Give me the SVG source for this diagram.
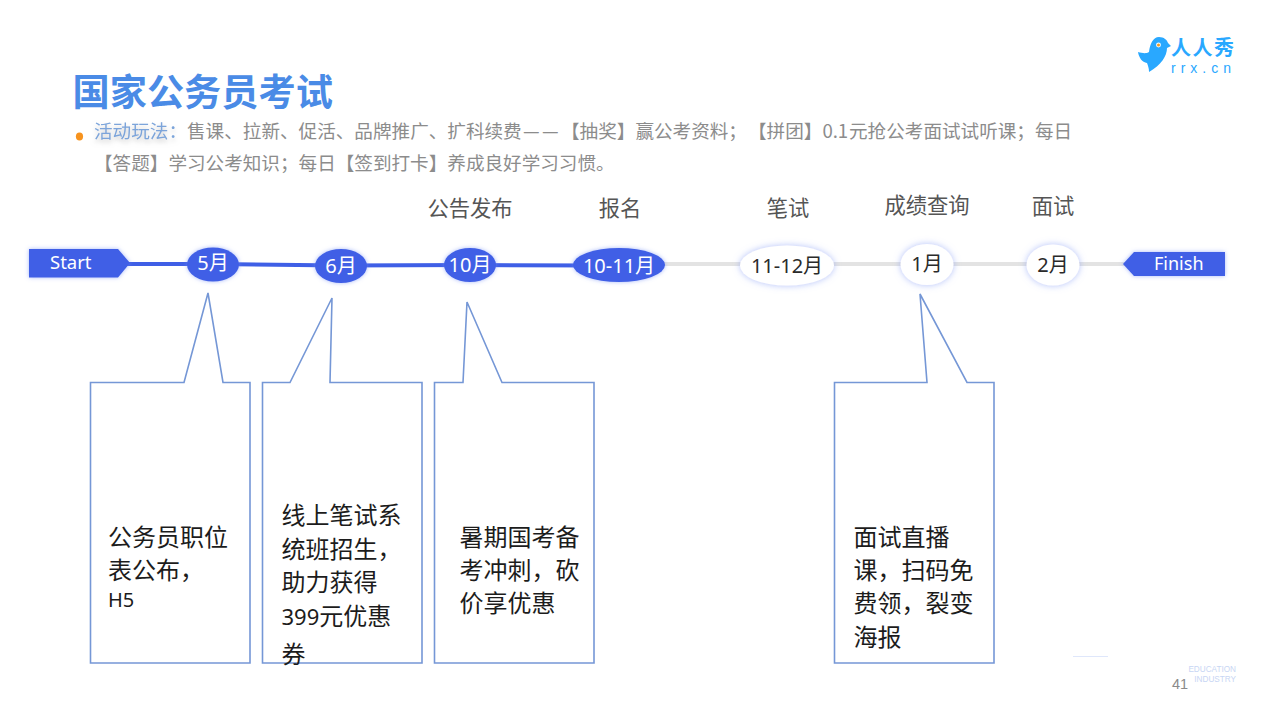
<svg xmlns="http://www.w3.org/2000/svg" width="1280" height="716" viewBox="0 0 1280 716">
<style>
text{font-family:"Noto Sans","Noto Sans CJK SC",sans-serif;text-spacing-trim:space-all}
.title{font-family:"Noto Sans CJK SC",sans-serif;font-size:37.200px;font-weight:700;fill:#4a8be6}
.sub{font-family:"Noto Sans CJK SC",sans-serif;font-size:18.6px;fill:#8c8c8c}
.lab{font-family:"Noto Sans CJK SC",sans-serif;font-size:21.3px;fill:#555;text-anchor:middle}
.mw{font-size:20px;fill:#fff;text-anchor:middle}
.md{font-size:20px;fill:#2a2a2a;text-anchor:middle}
.body{font-family:"Noto Sans CJK SC",sans-serif;font-size:24px;fill:#1c1c1c}
.call{fill:#fff;stroke:#7597d6;stroke-width:1.6}
.blueglow{fill:#3f5fe6;filter:url(#g1)}
.white{fill:#fff;filter:url(#g2)}
.foot{font-family:"Liberation Sans",sans-serif;font-size:8.2px;fill:#c8d6f4;text-anchor:end}
</style>
<defs>
<filter id="g1" x="-30%" y="-40%" width="160%" height="180%"><feDropShadow dx="0" dy="0" stdDeviation="2" flood-color="#6f8cf5" flood-opacity=".6"/></filter>
<filter id="g2" x="-30%" y="-40%" width="160%" height="180%"><feDropShadow dx="0" dy="0" stdDeviation="3.5" flood-color="#7f97f5" flood-opacity=".6"/></filter>
<filter id="s1" x="-10%" y="-30%" width="120%" height="190%"><feDropShadow dx="0" dy="3" stdDeviation="2.5" flood-color="#9a9a9a" flood-opacity=".55"/></filter>
</defs>
<rect width="1280" height="716" fill="#fff"/>

<g id="logo">
<path d="M1138 52C1142 53 1146 54 1149 52C1150 44 1153 37 1159 37C1164 37 1167 40 1168 43L1171 46L1167 48C1167 56 1161 65 1149 72C1149 68 1148 66 1147 63C1142 62 1139 58 1138 52Z" fill="#29a8ff"/>
<circle cx="1158.500" cy="45" r="2.400" fill="#fff"/><circle cx="1158.500" cy="45" r="1.500" fill="#f39a1e"/>
<text x="1171" y="54.500" font-size="20" font-weight="700" letter-spacing="1.500" fill="#29a8ff" style="font-family:'Noto Sans CJK SC',sans-serif">人人秀</text>
<text x="1171" y="73" font-size="14" fill="#29a8ff" letter-spacing="5" style="font-family:'Liberation Sans',sans-serif">rrx.cn</text>
</g>

<g id="heading">
<text class="title" x="72.500" y="106">国家公务员考试</text>
<ellipse cx="79.5" cy="136.5" rx="3.6" ry="4" fill="#f7931e"/>
<text class="sub" x="94" y="138" style="fill:#7ba4da;filter:url(#s1)">活动玩法&#xFF1A;</text>
<text class="sub" x="187" y="138">售课、拉新、促活、品牌推广、扩科续费<tspan x="523">—</tspan><tspan x="542">—</tspan><tspan x="561">【抽奖】赢公考资料&#xFF1B;</tspan><tspan x="748">【拼团】0.1</tspan><tspan x="849">元抢公考面试试听课&#xFF1B;每日</tspan></text>
<text class="sub" x="94" y="170">【答题】学习公考知识&#xFF1B;每日【签到打卡】养成良好学习习惯。</text>
</g>

<g id="connectors">
<line x1="660" y1="264" x2="1128" y2="264" stroke="#e3e3e3" stroke-width="4"/>
<path d="M125 264H213L341 265.500L470 265L600 265.500" fill="none" stroke="#3f5fe6" stroke-width="4"/>
</g>

<g id="start"><polygon class="blueglow" points="29,249 118,249 130,263 118,277.500 29,277.500"/><text x="50" y="269" font-size="18.500" fill="#fff">Start</text></g>
<g id="finish"><polygon class="blueglow" points="1123,264 1134,252 1225,252 1225,276 1134,276"/><text x="1154" y="270" font-size="18" fill="#fff">Finish</text></g>

<g id="m5"><ellipse class="blueglow" cx="213" cy="264.500" rx="26" ry="17"/><text class="mw" x="213" y="270">5月</text></g>
<g id="m6"><ellipse class="blueglow" cx="341" cy="266" rx="26" ry="17"/><text class="mw" x="341" y="273">6月</text></g>
<g id="m10"><ellipse class="blueglow" cx="470" cy="265" rx="26" ry="17"/><text class="mw" x="470" y="272">10月</text></g>
<g id="m10-11"><ellipse class="blueglow" cx="619" cy="265" rx="46" ry="17"/><text class="mw" x="619" y="273">10-11月</text><text class="lab" x="620" y="216">报名</text></g>
<g id="m11-12"><ellipse class="white" cx="787" cy="265.500" rx="47" ry="20"/><text class="md" x="787" y="273">11-12月</text><text class="lab" x="788" y="216">笔试</text></g>
<g id="m1"><ellipse class="white" cx="927" cy="264.500" rx="26.500" ry="20.500"/><text class="md" x="927" y="271">1月</text><text class="lab" x="927" y="213">成绩查询</text></g>
<g id="m2"><ellipse class="white" cx="1053" cy="265" rx="26.500" ry="20.500"/><text class="md" x="1053" y="272">2月</text><text class="lab" x="1053" y="214">面试</text></g>
<g id="notice"><text class="lab" x="470" y="216">公告发布</text></g>

<g id="callout1"><polygon class="call" points="90.500,382.500 184,382.500 208,293 223,382.500 250,382.500 250,663 90.500,663"/>
<text class="body" x="108" y="546">公务员职位</text><text class="body" x="108" y="579">表公布&#xFF0C;</text><text x="108" y="607" font-size="20" fill="#1c1c1c">H5</text></g>
<g id="callout2"><polygon class="call" points="262.500,382.500 290,382.500 332,298 330,382.500 422,382.500 422,663 262.500,663"/>
<text class="body" x="281.500" y="524">线上笔试系</text><text class="body" x="281.500" y="558">统班招生&#xFF0C;</text><text class="body" x="281.500" y="591">助力获得</text><text class="body" x="281.500" y="625"><tspan font-size="22" style="font-family:'Noto Sans',sans-serif">399</tspan>元优惠</text><text class="body" x="281.500" y="663">券</text></g>
<g id="callout3"><polygon class="call" points="434.500,382.500 463,382.500 467,302 502,382.500 594,382.500 594,663 434.500,663"/>
<text class="body" x="459.500" y="546">暑期国考备</text><text class="body" x="459.500" y="579">考冲刺&#xFF0C;砍</text><text class="body" x="459.500" y="612">价享优惠</text></g>
<g id="callout4"><polygon class="call" points="834.500,382.500 927,382.500 920,294 967,382.500 994,382.500 994,663 834.500,663"/>
<text class="body" x="853.500" y="546">面试直播</text><text class="body" x="853.500" y="579">课&#xFF0C;扫码免</text><text class="body" x="853.500" y="612">费领&#xFF0C;裂变</text><text class="body" x="853.500" y="646">海报</text></g>

<g id="footer">
<line x1="1073" y1="656.500" x2="1108" y2="656.500" stroke="#dfe7fb" stroke-width="1"/>
<text x="1172" y="689" font-size="14.500" fill="#8a8a8a" style="font-family:'Liberation Sans',sans-serif">41</text>
<text class="foot" x="1236" y="672">EDUCATION</text>
<text class="foot" x="1236" y="682">INDUSTRY</text>
</g>
</svg>
